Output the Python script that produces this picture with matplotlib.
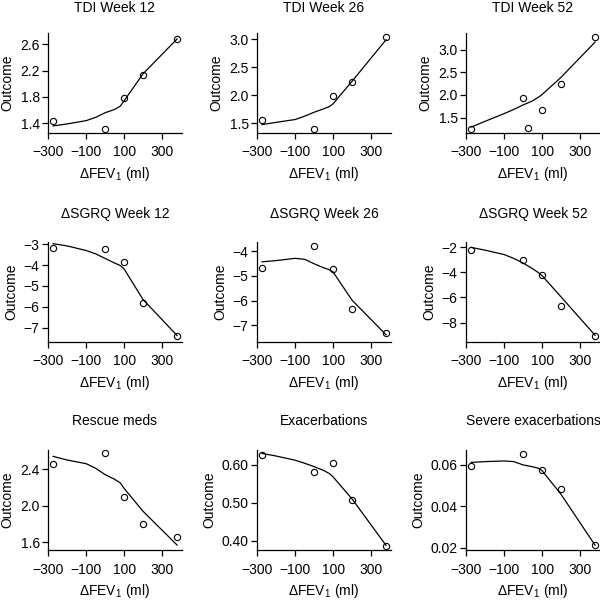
import matplotlib
matplotlib.use('Agg')
import matplotlib.pyplot as plt

plt.rcParams['font.family'] = ['Liberation Sans', 'DejaVu Sans']
plt.rcParams['mathtext.fontset'] = 'custom'
plt.rcParams['mathtext.rm'] = 'Liberation Sans'
plt.rcParams['mathtext.it'] = 'Liberation Sans:italic'
plt.rcParams['font.size'] = 10

# change in FEV1 (ml) for each trial group
fev_x = [-275, 0, 100, 200, 380]
fev_x52 = [-275, 0, 25, 100, 200, 380]

titles = ['TDI Week 12', 'TDI Week 26', 'TDI Week 52',
          '\u0394SGRQ Week 12', '\u0394SGRQ Week 26', '\u0394SGRQ Week 52',
          'Rescue meds', 'Exacerbations', 'Severe exacerbations']

tdi12 = [1.44, 1.31, 1.79, 2.13, 2.68]
tdi26 = [1.57, 1.40, 1.98, 2.24, 3.04]
tdi52 = [1.25, 1.93, 1.26, 1.66, 2.24, 3.28]
sgrq12 = [-3.18, -3.21, -3.87, -5.84, -7.38]
sgrq26 = [-4.68, -3.81, -4.73, -6.33, -7.29]
sgrq52 = [-2.21, -3.03, -4.21, -6.71, -9.08]
rescue = [2.46, 2.575, 2.10, 1.80, 1.655]
exac = [0.627, 0.582, 0.606, 0.506, 0.385]
severe = [0.0595, 0.0654, 0.0573, 0.0483, 0.0213]

# smoothed fit
curve_x = [-275, -200, -100, -50, 0, 50, 80, 100, 200, 380]
fit_tdi12 = [1.36, 1.39, 1.44, 1.49, 1.56, 1.61, 1.66, 1.74, 2.15, 2.68]
fit_tdi26 = [1.48, 1.52, 1.57, 1.63, 1.70, 1.76, 1.80, 1.85, 2.25, 2.99]
fit_tdi52 = [1.29, 1.42, 1.59, 1.68, 1.78, 1.87, 1.95, 2.01, 2.39, 3.17]
fit_sgrq12 = [-2.97, -3.08, -3.30, -3.46, -3.68, -3.90, -4.02, -4.18, -5.65, -7.38]
fit_sgrq26 = [-4.43, -4.38, -4.29, -4.33, -4.51, -4.67, -4.75, -4.84, -5.98, -7.38]
fit_sgrq52 = [-2.03, -2.25, -2.60, -2.90, -3.27, -3.72, -4.02, -4.27, -5.95, -9.00]
fit_rescue = [2.54, 2.50, 2.46, 2.41, 2.34, 2.29, 2.25, 2.19, 1.94, 1.57]
fit_exac = [0.630, 0.623, 0.612, 0.604, 0.595, 0.585, 0.577, 0.568, 0.510, 0.387]
fit_severe = [0.0612, 0.0616, 0.0619, 0.0616, 0.0600, 0.0591, 0.0584, 0.0572, 0.0458, 0.0212]

points = [(fev_x, tdi12), (fev_x, tdi26), (fev_x52, tdi52),
          (fev_x, sgrq12), (fev_x, sgrq26), (fev_x, sgrq52),
          (fev_x, rescue), (fev_x, exac), (fev_x, severe)]
fits = [fit_tdi12, fit_tdi26, fit_tdi52, fit_sgrq12, fit_sgrq26,
        fit_sgrq52, fit_rescue, fit_exac, fit_severe]

yticks = [[1.4, 1.8, 2.2, 2.6], [1.5, 2.0, 2.5, 3.0], [1.5, 2.0, 2.5, 3.0],
          [-7, -6, -5, -4, -3], [-7, -6, -5, -4], [-8, -6, -4, -2],
          [1.6, 2.0, 2.4], [0.40, 0.50, 0.60], [0.02, 0.04, 0.06]]
ydec = [1, 1, 1, 0, 0, 0, 1, 2, 2]
ylims = [(1.252, 2.77), (1.33, 3.11), (1.16, 3.37),
         (-7.69, -2.89), (-7.67, -3.63), (-9.53, -1.6),
         (1.516, 2.61), (0.375, 0.639), (0.0189, 0.0672)]
xticks = [-300, -100, 100, 300]

W, H = 600, 602
fig = plt.figure(figsize=(W / 100, H / 100), dpi=100)

col_left = [48, 257, 466]
row_top = [33, 242, 450]
title_pad = [15, 17.5, 18]
ax_w, ax_h = 134, 100

for i in range(9):
    r, c = divmod(i, 3)
    left = col_left[c] / W
    bottom = 1 - (row_top[r] + ax_h) / H
    ax = fig.add_axes([left, bottom, ax_w / W, ax_h / H])

    px, py = points[i]
    ax.plot(curve_x, fits[i], color='black', lw=0.9)
    ax.plot(px, py, 'o', mfc='none', mec='black', ms=4.5, mew=0.8)

    ax.set_xlim(-302, 406)
    ax.set_ylim(*ylims[i])
    ax.set_xticks(xticks, labels=[str(t).replace('-', '\u2212') for t in xticks])
    fmt = '{:.%df}' % ydec[i]
    ax.set_yticks(yticks[i], labels=[fmt.format(t).replace('-', '\u2212') for t in yticks[i]])

    for s in ['top', 'right']:
        ax.spines[s].set_visible(False)
    for s in ['left', 'bottom']:
        ax.spines[s].set_linewidth(0.9)
    ax.tick_params(direction='out', length=4, width=0.9, labelsize=10, pad=2)
    ax.tick_params(axis='x', pad=5)

    ax.set_title(titles[i], fontsize=10, pad=title_pad[r])
    ax.set_xlabel('\u0394FEV$_1$ (ml)', fontsize=10, labelpad=4)
    ax.set_ylabel('Outcome', fontsize=10, labelpad=4)

fig.savefig('out.png', dpi=100)
